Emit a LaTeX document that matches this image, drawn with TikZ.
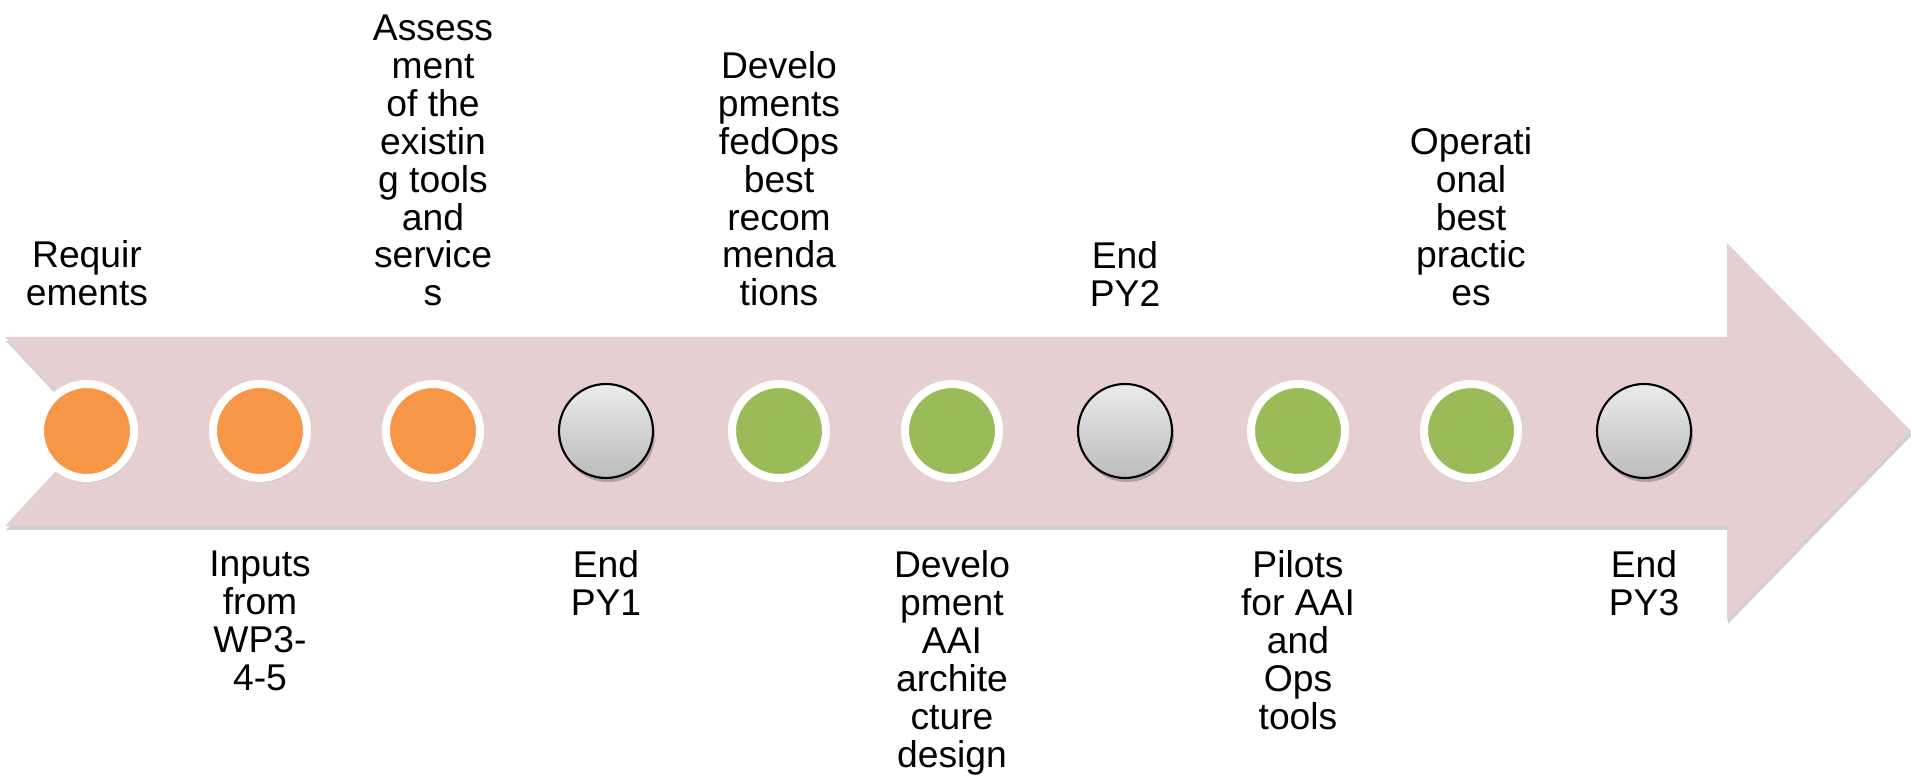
\documentclass[tikz,border=0pt]{standalone}
\usepackage{fontspec}
\setmainfont{Liberation Sans}
\usepackage{xcolor}
\usepackage{tikz}
\usetikzlibrary{positioning,shadows}

\definecolor{bandpink}{HTML}{E6CFD0}
\definecolor{mileorange}{HTML}{F79646}
\definecolor{milegreen}{HTML}{9BBB59}
\definecolor{endtop}{HTML}{EBEBEB}
\definecolor{endbot}{HTML}{BCBCBC}

\tikzset{
	mileshadow/.style={drop shadow={shadow xshift=0.02cm, shadow yshift=-0.04cm, opacity=0.35, fill=black!70}},
	milestone/.style={circle, minimum size=0.94cm, inner sep=0pt, draw=white, line width=0.08cm, mileshadow},
	orangestone/.style={milestone, fill=mileorange},
	greenstone/.style={milestone, fill=milegreen},
	endstone/.style={circle, minimum size=0.94cm, inner sep=0pt, draw=black, line width=0.6pt, top color=endtop, bottom color=endbot, mileshadow},
	milelabel/.style={align=center, inner sep=0pt, font=\fontsize{10.6}{10.8}\selectfont}
}

\begin{document}
\begin{tikzpicture}
	\useasboundingbox (0,0) rectangle (19.11,7.77);
	% timeline band
	\fill[bandpink, drop shadow={shadow xshift=0.01cm, shadow yshift=-0.04cm, opacity=0.3, fill=black!60}]
		(0.05,4.40) -- (17.27,4.40) -- (17.27,5.34) -- (19.11,3.46) -- (17.27,1.57)
		-- (17.27,2.51) -- (0.05,2.51) -- (0.93,3.46) -- cycle;
	% milestones
	\node[orangestone] (0) at (0.87,3.46) {};
	\node[orangestone] (1) at (2.60,3.46) {};
	\node[orangestone] (2) at (4.33,3.46) {};
	\node[endstone] (3) at (6.06,3.46) {};
	\node[greenstone] (4) at (7.79,3.46) {};
	\node[greenstone] (5) at (9.52,3.46) {};
	\node[endstone] (6) at (11.25,3.46) {};
	\node[greenstone] (7) at (12.98,3.46) {};
	\node[greenstone] (8) at (14.71,3.46) {};
	\node[endstone] (9) at (16.44,3.46) {};
	% labels above
	\node[milelabel, anchor=south] (l0) at (0.87,4.70) {Requir\\ements};
	\node[milelabel, anchor=south] (l2) at (4.33,4.70) {Assess\\ment\\of the\\existin\\g tools\\and\\service\\s};
	\node[milelabel, anchor=south] (l4) at (7.79,4.70) {Develo\\pments\\fedOps\\best\\recom\\menda\\tions};
	\node[milelabel, anchor=south] (l6) at (11.25,4.70) {End\\PY2};
	\node[milelabel, anchor=south] (l8) at (14.71,4.70) {Operati\\onal\\best\\practic\\es};
	% labels below
	\node[milelabel, anchor=north] (l1) at (2.60,2.27) {Inputs\\from\\WP3-\\4-5};
	\node[milelabel, anchor=north] (l3) at (6.06,2.27) {End\\PY1};
	\node[milelabel, anchor=north] (l5) at (9.52,2.27) {Develo\\pment\\AAI\\archite\\cture\\design};
	\node[milelabel, anchor=north] (l7) at (12.98,2.27) {Pilots\\for AAI\\and\\Ops\\tools};
	\node[milelabel, anchor=north] (l9) at (16.44,2.27) {End\\PY3};
\end{tikzpicture}
\end{document}
